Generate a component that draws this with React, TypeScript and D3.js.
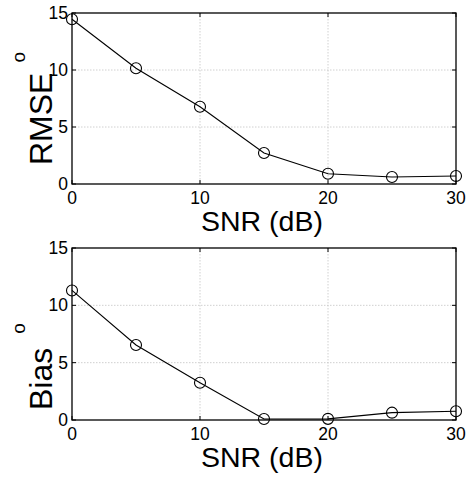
import React from "react";
import * as d3 from "d3";

const snr = [0, 5, 10, 15, 20, 25, 30];
const rmse = [14.45, 10.15, 6.78, 2.72, 0.9, 0.61, 0.7];
const bias = [11.3, 6.54, 3.25, 0.09, 0.1, 0.64, 0.76];
const xTicks = [0, 10, 20, 30];
const yTicks = [0, 5, 10, 15];
const xLabel = "SNR (dB)";

const W = 469;
const H = 478;
const FONT = "'Liberation Sans', Arial, Helvetica, sans-serif";

type PanelProps = {
  values: number[];
  top: number;
  bottom: number;
  yLabel: string;
  yLabelStart: number;
  supDx: number;
};

function Panel({ values, top, bottom, yLabel, yLabelStart, supDx }: PanelProps) {
  const left = 72;
  const right = 456;
  const x = d3.scaleLinear().domain([0, 30]).range([left, right]);
  const y = d3.scaleLinear().domain([0, 15]).range([bottom, top]);
  const line = d3
    .line<number>()
    .x((_, i) => x(snr[i]))
    .y((d) => y(d));
  const tl = 4;
  return (
    <g>
      {xTicks.slice(1, -1).map((t) => (
        <line key={"gx" + t} x1={x(t)} x2={x(t)} y1={top} y2={bottom} stroke="#c4c4c4" strokeWidth={0.8} strokeDasharray="1.5,1.5" />
      ))}
      {yTicks.slice(1, -1).map((t) => (
        <line key={"gy" + t} x1={left} x2={right} y1={y(t)} y2={y(t)} stroke="#c4c4c4" strokeWidth={0.8} strokeDasharray="1.5,1.5" />
      ))}
      {xTicks.map((t) => (
        <g key={"tx" + t}>
          <line x1={x(t)} x2={x(t)} y1={bottom} y2={bottom - tl} stroke="#000" strokeWidth={1} />
          <line x1={x(t)} x2={x(t)} y1={top} y2={top + tl} stroke="#000" strokeWidth={1} />
          <text x={x(t)} y={bottom + 19.5} textAnchor="middle" fontSize={17.5} fontFamily={FONT} fill="#000">
            {t}
          </text>
        </g>
      ))}
      {yTicks.map((t) => (
        <g key={"ty" + t}>
          <line x1={left} x2={left + tl} y1={y(t)} y2={y(t)} stroke="#000" strokeWidth={1} />
          <line x1={right} x2={right - tl} y1={y(t)} y2={y(t)} stroke="#000" strokeWidth={1} />
          <text x={68} y={y(t) + 6} textAnchor="end" fontSize={17.5} fontFamily={FONT} fill="#000">
            {t}
          </text>
        </g>
      ))}
      <rect x={left} y={top} width={right - left} height={bottom - top} fill="none" stroke="#000" strokeWidth={1.3} />
      <path d={line(values) || ""} fill="none" stroke="#000" strokeWidth={1.1} />
      {values.map((v, i) => (
        <circle key={i} cx={x(snr[i])} cy={y(v)} r={5.5} fill="none" stroke="#000" strokeWidth={1.1} />
      ))}
      <text x={(left + right) / 2 - 2} y={bottom + 47} textAnchor="middle" fontSize={28.5} fontFamily={FONT} fill="#000">
        {xLabel}
      </text>
      <text transform={`translate(52,${yLabelStart}) rotate(-90)`} fontSize={32} fontFamily={FONT} fill="#000">
        {yLabel}
        <tspan dx={supDx} dy={-27} fontSize={19}>
          o
        </tspan>
      </text>
    </g>
  );
}

export default function App() {
  return (
    <div style={{ position: "absolute", left: 0, top: 0 }}>
      <svg width={W} height={H} viewBox={`0 0 ${W} ${H}`} style={{ display: "block", background: "#fff" }}>
        <rect width={W} height={H} fill="#fff" />
        <Panel values={rmse} top={13} bottom={184} yLabel="RMSE" yLabelStart={165} supDx={10} />
        <Panel values={bias} top={248} bottom={420} yLabel="Bias" yLabelStart={410} supDx={14} />
      </svg>
    </div>
  );
}
